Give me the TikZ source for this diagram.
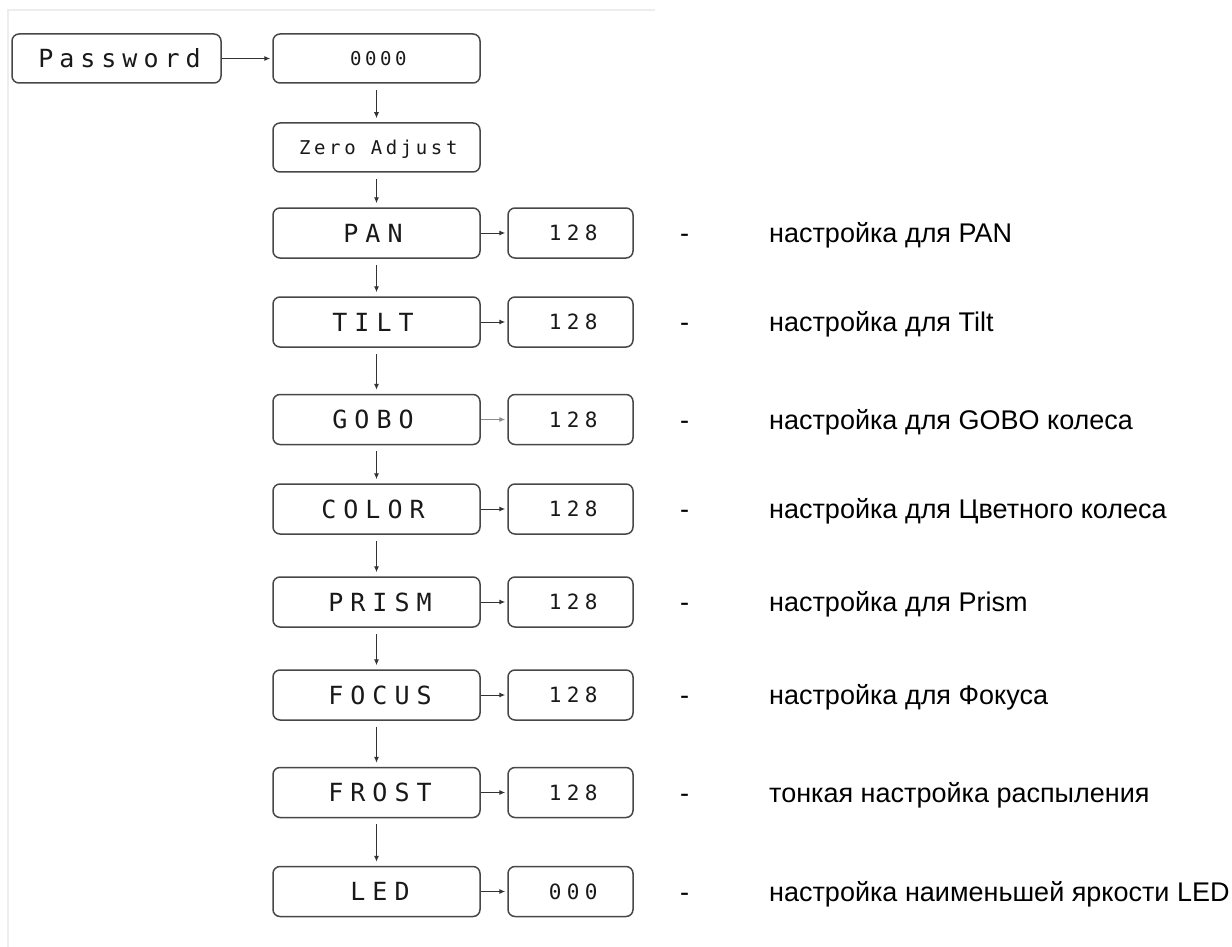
\documentclass[tikz,border=0pt]{standalone}
\usepackage{fontspec}
\setmainfont{Liberation Sans}
\newfontfamily\lcdpw[LetterSpace=24]{DejaVu Sans Mono}
\newfontfamily\lcdbig[LetterSpace=28]{DejaVu Sans Mono}
\newfontfamily\lcdsmall[LetterSpace=19]{DejaVu Sans Mono}
\newfontfamily\lcdnum[LetterSpace=26]{DejaVu Sans Mono}
\usetikzlibrary{arrows.meta}
\begin{document}
\begin{tikzpicture}[x=1pt,y=-1pt,
  box/.style={draw=black!72, line width=1.5pt, rounded corners=7pt, inner sep=0pt, text=black!90, text depth=0pt},
  pwbox/.style={box, minimum width=209pt, minimum height=49pt, font=\lcdpw\fontsize{25}{25}\selectfont, text height=18.2pt, execute at end node={\kern-6pt}},
  bigbox/.style={box, minimum width=207pt, minimum height=50pt, font=\lcdbig\fontsize{25}{25}\selectfont, text height=18.2pt, execute at end node={\kern-7pt}},
  leftish/.style={execute at end node={\kern 14pt}},
  midbox/.style={box, minimum width=207pt, minimum height=49pt, font=\lcdsmall\fontsize{19}{19}\selectfont, text height=13.8pt, execute at end node={\kern-3.6pt}},
  valbox/.style={box, minimum width=125pt, minimum height=50pt, font=\lcdnum\fontsize{21}{21}\selectfont, text height=15.3pt, execute at end node={\kern-5.4pt}},
  arr/.style={-{Latex[length=6pt,width=5pt]}, line width=1pt, draw=black!80},
  varr/.style={arr, shorten <=6pt, shorten >=4pt},
  harr/.style={arr, shorten >=2pt},
  desc/.style={anchor=base west, font=\fontsize{27}{27}\selectfont, text=black, inner sep=0pt},
  dashmark/.style={anchor=base west, font=\fontsize{27}{27}\selectfont, text=black, inner sep=0pt}
]
\useasboundingbox[fill=white] (0,0) rectangle (1232,947);
\draw[black!7, line width=1.2pt] (8,947) -- (8,10) -- (655,10);

\node[pwbox] (pw) at (116.5,58.5) {Password};
\node[midbox] (code) at (376.5,58.5) {0000};
\node[midbox] (zero) at (376.5,147.5) {Zero Adjust};

\node[bigbox, leftish] (pan) at (376.5,233) {PAN};
\node[bigbox, leftish] (tilt) at (376.5,322) {TILT};
\node[bigbox, leftish] (gobo) at (376.5,419.5) {GOBO};
\node[bigbox, leftish] (color) at (376.5,509) {COLOR};
\node[bigbox] (prism) at (376.5,602) {PRISM};
\node[bigbox] (focus) at (376.5,695) {FOCUS};
\node[bigbox] (frost) at (376.5,792.5) {FROST};
\node[bigbox] (led) at (376.5,891.5) {LED};

\node[valbox] (vpan) at (570.5,233) {128};
\node[valbox] (vtilt) at (570.5,322) {128};
\node[valbox] (vgobo) at (570.5,419.5) {128};
\node[valbox] (vcolor) at (570.5,509) {128};
\node[valbox] (vprism) at (570.5,602) {128};
\node[valbox] (vfocus) at (570.5,695) {128};
\node[valbox] (vfrost) at (570.5,792.5) {128};
\node[valbox] (vled) at (570.5,891.5) {000};

\draw[harr] (pw) -- (code);
\draw[varr] (code) -- (zero);
\draw[varr] (zero) -- (pan);
\draw[varr] (pan) -- (tilt);
\draw[varr] (tilt) -- (gobo);
\draw[varr] (gobo) -- (color);
\draw[varr] (color) -- (prism);
\draw[varr] (prism) -- (focus);
\draw[varr] (focus) -- (frost);
\draw[varr] (frost) -- (led);

\draw[harr] (pan) -- (vpan);
\draw[harr] (tilt) -- (vtilt);
\draw[harr, draw=black!45] (gobo) -- (vgobo);
\draw[harr] (color) -- (vcolor);
\draw[harr] (prism) -- (vprism);
\draw[harr] (focus) -- (vfocus);
\draw[harr] (frost) -- (vfrost);
\draw[harr] (led) -- (vled);

\node[dashmark] (d1) at (680,242.5) {-};
\node[desc] (t1) at (769,242.5) {настройка для PAN};
\node[dashmark] (d2) at (680,331.5) {-};
\node[desc] (t2) at (769,331.5) {настройка для Tilt};
\node[dashmark] (d3) at (680,429) {-};
\node[desc] (t3) at (769,429) {настройка для GOBO колеса};
\node[dashmark] (d4) at (680,518.5) {-};
\node[desc] (t4) at (769,518.5) {настройка для Цветного колеса};
\node[dashmark] (d5) at (680,611.5) {-};
\node[desc] (t5) at (769,611.5) {настройка для Prism};
\node[dashmark] (d6) at (680,704.5) {-};
\node[desc] (t6) at (769,704.5) {настройка для Фокуса};
\node[dashmark] (d7) at (680,802) {-};
\node[desc] (t7) at (769,802) {тонкая настройка распыления};
\node[dashmark] (d8) at (680,901) {-};
\node[desc] (t8) at (769,901) {настройка наименьшей яркости LED};
\end{tikzpicture}
\end{document}
